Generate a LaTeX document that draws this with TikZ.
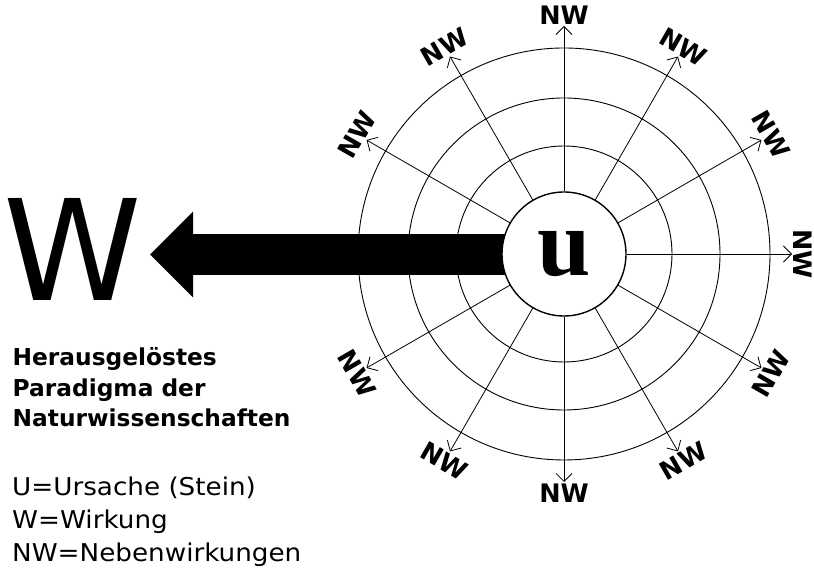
\documentclass[tikz,border=0pt]{standalone}
\usepackage{fontspec}
\setmainfont{DejaVu Sans}
\newfontfamily\regfont[FakeStretch=1.07]{DejaVu Sans}
\newfontfamily\ufont{Liberation Serif}
\usetikzlibrary{arrows.meta}
\begin{document}
\begin{tikzpicture}[x=1pt,y=1pt,
  ring/.style={draw, line width=0.9pt},
  spoke/.style={draw, line width=0.8pt, -{Straight Barb[length=8pt,width=16pt]}},
  nwlab/.style={font=\fontsize{25.5}{25.5}\selectfont\bfseries, inner sep=0pt},
  bigarrow/.style={draw, line width=41pt, -{Triangle[length=43pt,width=83pt]}},
  boldline/.style={font=\fontsize{23.3}{23.3}\selectfont\bfseries, inner sep=0pt, anchor=base west},
  regline/.style={font=\fontsize{24.5}{24.5}\selectfont\regfont, inner sep=0pt, anchor=base west},
  ucirc/.style={circle, draw, line width=1.4pt, fill=white, minimum size=124pt, inner sep=0pt,
    font=\fontsize{96}{96}\selectfont\ufont\bfseries}
]
\useasboundingbox (0,0) rectangle (814,569);
\coordinate (c) at (564,315);
% rings
\draw[ring] (c) circle[radius=108pt];
\draw[ring] (c) circle[radius=156pt];
\draw[ring] (c) circle[radius=206pt];
% big arrow to W
\coordinate (wt) at (150,314.5);
\draw[bigarrow] ([yshift=-0.5pt]c) -- (wt);
% U circle
\node[ucirc] (u) at (c) {u};
% spokes and labels
\foreach \a/\r in {0/-90,30/-60,60/-30,90/0,120/30,150/60,210/-60,240/-30,270/0,300/30,330/60}{
  \coordinate (t\a) at ([shift={(\a:228)}]c);
  \draw[spoke] (u.\a) -- (t\a);
  \node[nwlab, rotate=\r] (l\a) at ([shift={(\a:239)}]c) {NW};
}
% big W
\node[font=\fontsize{140}{140}\selectfont, inner sep=0pt, anchor=base] (w) at (73,268.3) {W};
% text
\node[boldline] (h1) at (12.5,203) {Herausgelöstes};
\node[boldline] (h2) at (12.5,172.7) {Paradigma der};
\node[boldline] (h3) at (12.5,142.3) {Naturwissenschaften};
\node[regline] (r1) at (12,73.3) {U=Ursache (Stein)};
\node[regline] (r2) at (12,40.3) {W=Wirkung};
\node[regline] (r3) at (12,7.3) {NW=Nebenwirkungen};
\end{tikzpicture}
\end{document}
